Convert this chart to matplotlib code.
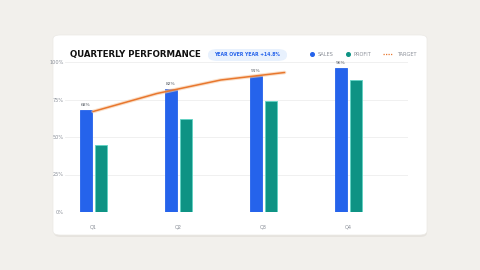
import matplotlib
matplotlib.use("Agg")
import matplotlib.pyplot as plt
from matplotlib.patches import FancyBboxPatch
from matplotlib.lines import Line2D
import numpy as np

quarters = ["Q1", "Q2", "Q3", "Q4"]
sales = [68, 82, 91, 96]
profit = [45, 62, 74, 88]
target_x = [0.0, 0.75, 1.5, 2.25]
target = [67, 79, 88, 93]
yticks = [0, 25, 50, 75, 100]
ytick_labels = ["0%", "25%", "50%", "75%", "100%"]

BG = "#f2f0ec"
BLUE = "#2563eb"
TEAL = "#0e9384"
ORANGE = "#e8772e"
GRAY = "#8a8f98"

fig = plt.figure(figsize=(4.8, 2.7), dpi=100)
fig.patch.set_facecolor(BG)

W, H = 480, 270
def fx(px): return px / W
def fy(py): return 1 - py / H
shadow = FancyBboxPatch((fx(54), fy(237)), fx(427) - fx(54), fy(37) - fy(237),
                        boxstyle="round,pad=0,rounding_size=0.015",
                        transform=fig.transFigure, facecolor="#e6e3de", edgecolor="none", zorder=0)
fig.patches.append(shadow)
card = FancyBboxPatch((fx(53), fy(235)), fx(427) - fx(53), fy(35) - fy(235),
                      boxstyle="round,pad=0,rounding_size=0.015",
                      transform=fig.transFigure, facecolor="white", edgecolor="#ebe9e5", lw=0.5, zorder=1)
fig.patches.append(card)

ax = fig.add_axes([fx(65), fy(212), fx(408) - fx(65), fy(62) - fy(212)])
ax.set_zorder(2)
ax.patch.set_alpha(0)
ax.set_xlim(-0.33, 3.7)
ax.set_ylim(0, 100)

x = np.arange(len(quarters))
off = 0.088
bw = 0.14
ax.bar(x - off, sales, bw, color=BLUE, edgecolor=BLUE, lw=0.6, zorder=3)
ax.bar(x + off, profit, bw, color=TEAL, edgecolor="#5fd3c4", lw=0.6, zorder=3)

for xi, v in zip(x, sales):
    ax.text(xi - off, v + 2, f"{v}%", ha="center", va="bottom", fontsize=3.2, color="#555b63", zorder=5)

ax.plot(target_x, target, color="#f7c9a3", lw=2.6, alpha=0.6, solid_capstyle="round", zorder=4)
ax.plot(target_x, target, color=ORANGE, lw=1.1, solid_capstyle="round", zorder=4)

for s in ax.spines.values():
    s.set_visible(False)
ax.set_yticks(yticks)
ax.set_yticklabels(ytick_labels)
ax.tick_params(axis="y", length=0, labelsize=3.6, labelcolor=GRAY, pad=1)
ax.set_xticks(x)
ax.set_xticklabels(quarters)
ax.tick_params(axis="x", length=0, labelsize=3.6, labelcolor=GRAY, pad=9)
ax.grid(axis="y", color="#eeeeee", lw=0.6, zorder=0)
ax.set_axisbelow(True)

fig.text(fx(70), fy(54), "QUARTERLY PERFORMANCE", fontsize=6.2, fontweight="heavy",
         color="#111111", ha="left", va="center", zorder=5)

pill = FancyBboxPatch((fx(208), fy(61)), fx(287) - fx(208), fy(49) - fy(61),
                      boxstyle="round,pad=0,rounding_size=0.02",
                      transform=fig.transFigure, facecolor="#e8f1fd", edgecolor="none", zorder=2)
fig.patches.append(pill)
fig.text(fx(247.5), fy(55), "YEAR OVER YEAR +14.8%", fontsize=3.3, fontweight="bold",
         color=BLUE, ha="center", va="center", zorder=5)

fig.lines.append(Line2D([fx(312)], [fy(54)], marker="o", ms=2.6, color=BLUE, lw=0,
                        transform=fig.transFigure, zorder=5))
fig.text(fx(318), fy(54), "SALES", fontsize=3.6, color=GRAY, ha="left", va="center", zorder=5)
fig.lines.append(Line2D([fx(348)], [fy(54)], marker="o", ms=2.6, color=TEAL, lw=0,
                        transform=fig.transFigure, zorder=5))
fig.text(fx(354), fy(54), "PROFIT", fontsize=3.6, color=GRAY, ha="left", va="center", zorder=5)
fig.lines.append(Line2D([fx(383), fx(393)], [fy(54), fy(54)], color=ORANGE, lw=0.9, ls=(0, (1, 1)),
                        transform=fig.transFigure, zorder=5))
fig.text(fx(397), fy(54), "TARGET", fontsize=3.6, color=GRAY, ha="left", va="center", zorder=5)

fig.savefig("out.png", dpi=100, facecolor=BG)
